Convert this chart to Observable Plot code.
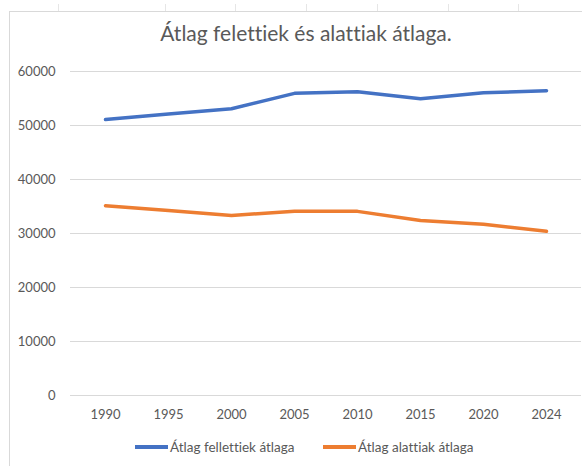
<!DOCTYPE html>
<html>
<head>
<meta charset="utf-8">
<script src="https://cdn.jsdelivr.net/npm/d3@7"></script>
<script src="https://cdn.jsdelivr.net/npm/@observablehq/plot@0.6"></script>
<style>
  html, body { margin: 0; padding: 0; background: #fff; }
  #wrap { position: relative; width: 582px; height: 466px; overflow: hidden; font-family: Lato, "Open Sans", sans-serif; color: #595959; font-variant-ligatures: none; }
  #wrap svg text { font-variant-ligatures: none; }
  #frameTop { position: absolute; left: 9px; top: 11px; width: 580px; height: 1px; background: #d9d9d9; }
  #frameLeft { position: absolute; left: 9px; top: 11px; width: 1px; height: 460px; background: #d9d9d9; }
  .cell { position: absolute; top: 4px; width: 1px; height: 7px; background: #e6e6e6; }
  #title { position: absolute; left: 0; width: 612px; top: 20px; text-align: center; font-size: 21px; color: #595959; }
  #chart { position: absolute; left: 0; top: 0; }
  #legend { position: absolute; top: 438px; left: 0; width: 582px; height: 20px; font-size: 13.5px; }
  .item { position: absolute; top: 0; display: flex; align-items: center; height: 18px; white-space: nowrap; }
  .sw { width: 33px; height: 4px; margin-right: 2px; }
</style>
</head>
<body>
<div id="wrap">
  <div id="frameTop"></div>
  <div id="frameLeft"></div>
  <div id="chart"></div>
  <div id="title">Átlag felettiek és alattiak átlaga.</div>
  <div id="legend"></div>
</div>
<script>
const years = ["1990", "1995", "2000", "2005", "2010", "2015", "2020", "2024"];
const felettiek = [51100, 52150, 53100, 55950, 56250, 54950, 56050, 56450];
const alattiak = [35150, 34250, 33350, 34100, 34100, 32400, 31700, 30400];
const seriesNames = ["Átlag fellettiek átlaga", "Átlag alattiak átlaga"];
const seriesColors = ["#4472C4", "#ED7D31"];
const yTicks = [0, 10000, 20000, 30000, 40000, 50000, 60000];
const cellLines = [58, 165, 235, 306, 377, 448, 518];

const wrap = document.getElementById("wrap");
for (const x of cellLines) {
  const d = document.createElement("div");
  d.className = "cell";
  d.style.left = x + "px";
  wrap.appendChild(d);
}

const rows = [];
years.forEach((y, i) => {
  rows.push({year: y, value: felettiek[i], series: seriesNames[0]});
  rows.push({year: y, value: alattiak[i], series: seriesNames[1]});
});

const chart = Plot.plot({
  width: 582,
  height: 466,
  marginTop: 71,
  marginBottom: 71,
  marginLeft: 70,
  marginRight: 1,
  style: {fontFamily: "Lato, 'Open Sans', sans-serif", fontSize: "13px", color: "#595959", background: "transparent", overflow: "visible"},
  x: {type: "point", domain: years, padding: 0.5, label: null, tickSize: 0, tickPadding: 15},
  y: {domain: [0, 60000], ticks: yTicks, label: null, tickSize: 0, tickPadding: 15, tickFormat: d => String(d)},
  color: {domain: seriesNames, range: seriesColors},
  marks: [
    Plot.gridY(yTicks, {stroke: "#d9d9d9", strokeOpacity: 1, strokeWidth: 1}),
    Plot.axisY({ticks: yTicks, tickSize: 0, tickPadding: 15, tickFormat: d => String(d), label: null, fill: "#595959"}),
    Plot.axisX({tickSize: 0, tickPadding: 14, label: null, fill: "#595959"}),
    Plot.line(rows, {x: "year", y: "value", z: "series", stroke: "series", strokeWidth: 3.5, strokeLinecap: "round", strokeLinejoin: "round"})
  ]
});
document.getElementById("chart").appendChild(chart);

const legend = document.getElementById("legend");
const legendX = [135, 323];
seriesNames.forEach((name, i) => {
  const item = document.createElement("div");
  item.className = "item";
  item.style.left = legendX[i] + "px";
  const sw = document.createElement("div");
  sw.className = "sw";
  sw.style.background = seriesColors[i];
  const t = document.createElement("span");
  t.textContent = name;
  item.appendChild(sw);
  item.appendChild(t);
  legend.appendChild(item);
});
</script>
</body>
</html>
